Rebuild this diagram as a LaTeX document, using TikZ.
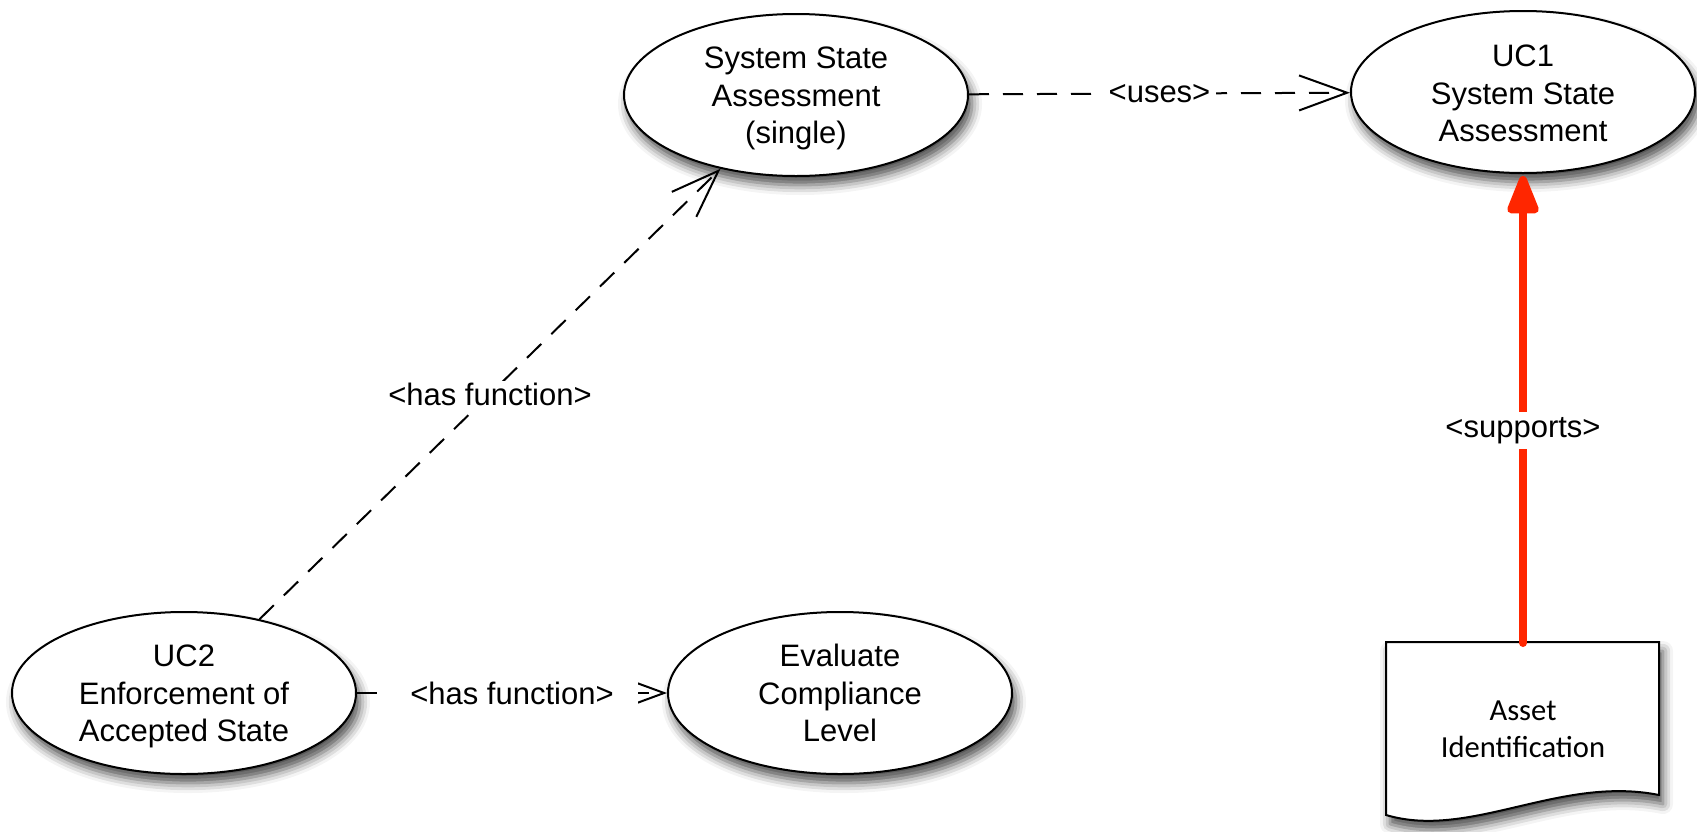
\documentclass[tikz,border=0pt]{standalone}
\usepackage{fontspec}
\setmainfont{Liberation Sans}
\newfontfamily\calib{Carlito}
\usetikzlibrary{shapes.geometric,arrows.meta,shadows.blur}
\definecolor{supred}{RGB}{255,38,0}
\tikzset{
  softshadow/.style={blur shadow={shadow xshift=2pt, shadow yshift=-4.5pt, shadow blur radius=5pt, shadow opacity=70}},
  uc/.style={ellipse, draw, line width=1pt, fill=white, minimum width=172pt, minimum height=81pt,
    inner sep=0pt, softshadow},
  uctext/.style={align=center, inner sep=0pt, font=\fontsize{15.5}{18.75}\selectfont},
  dep/.style={draw, line width=1pt, dash pattern=on 10pt off 7pt},
  bigbarb/.style={-{Straight Barb[length=24pt, width=17.5pt, line width=1pt]}},
  smallbarb/.style={-{Straight Barb[length=17pt, width=12.5pt, line width=1pt]}},
  lbl/.style={fill=white, inner sep=3pt, font=\fontsize{15.5}{18.75}\selectfont},
  suparrow/.style={draw=supred, line width=4pt, line cap=round, -{Triangle[length=22.5pt, width=16.5pt, round=false]}, shorten >=1pt},
}
\begin{document}
\begin{tikzpicture}[x=0.5pt, y=-0.5pt]
\useasboundingbox (0,0) rectangle (1697,831);

% use-case ellipses
\node[uc] (single) at (796,95) {};
\node[uctext] (singletext) at (796,98.5) {System State\\Assessment\\(single)};
\node[uc] (uc1) at (1523,92) {};
\node[uctext] (uc1text) at (1523,93.6) {UC1\\System State\\Assessment};
\node[uc] (uc2) at (184,693) {};
\node[uctext] (uc2text) at (184,696.5) {UC2\\Enforcement of\\Accepted State};
\node[uc] (eval) at (840,693) {};
\node[uctext] (evaltext) at (840,693) {Evaluate\\Compliance\\Level};

% document shape
\path[softshadow, draw, line width=1pt, fill=white]
  (1386,642) -- (1659,642) -- (1659,795)
  .. controls (1560,775) and (1470,840) .. (1386,815) -- cycle;
\node[align=center, font=\calib\fontsize{15.3}{18.5}\selectfont, inner sep=0pt] (asset) at (1523,729) {Asset\\Identification};
\coordinate (assettop) at (1523,643);

% connectors
\draw[dep, bigbarb] (single) -- node[lbl, pos=0.5] (uses) {<uses>} (uc1);
\draw[dep, bigbarb] (uc2) -- node[lbl, pos=0.5, inner sep=1pt] (hf1) {<has function>} (single);
\draw[dep, smallbarb] (uc2) -- node[lbl, pos=0.5, inner xsep=12pt] (hf2) {<has function>} (eval);
\draw[suparrow] (assettop) -- node[lbl, pos=0.453, inner xsep=1pt, inner ysep=2.5pt] (sup) {<supports>} (uc1);
\end{tikzpicture}
\end{document}
